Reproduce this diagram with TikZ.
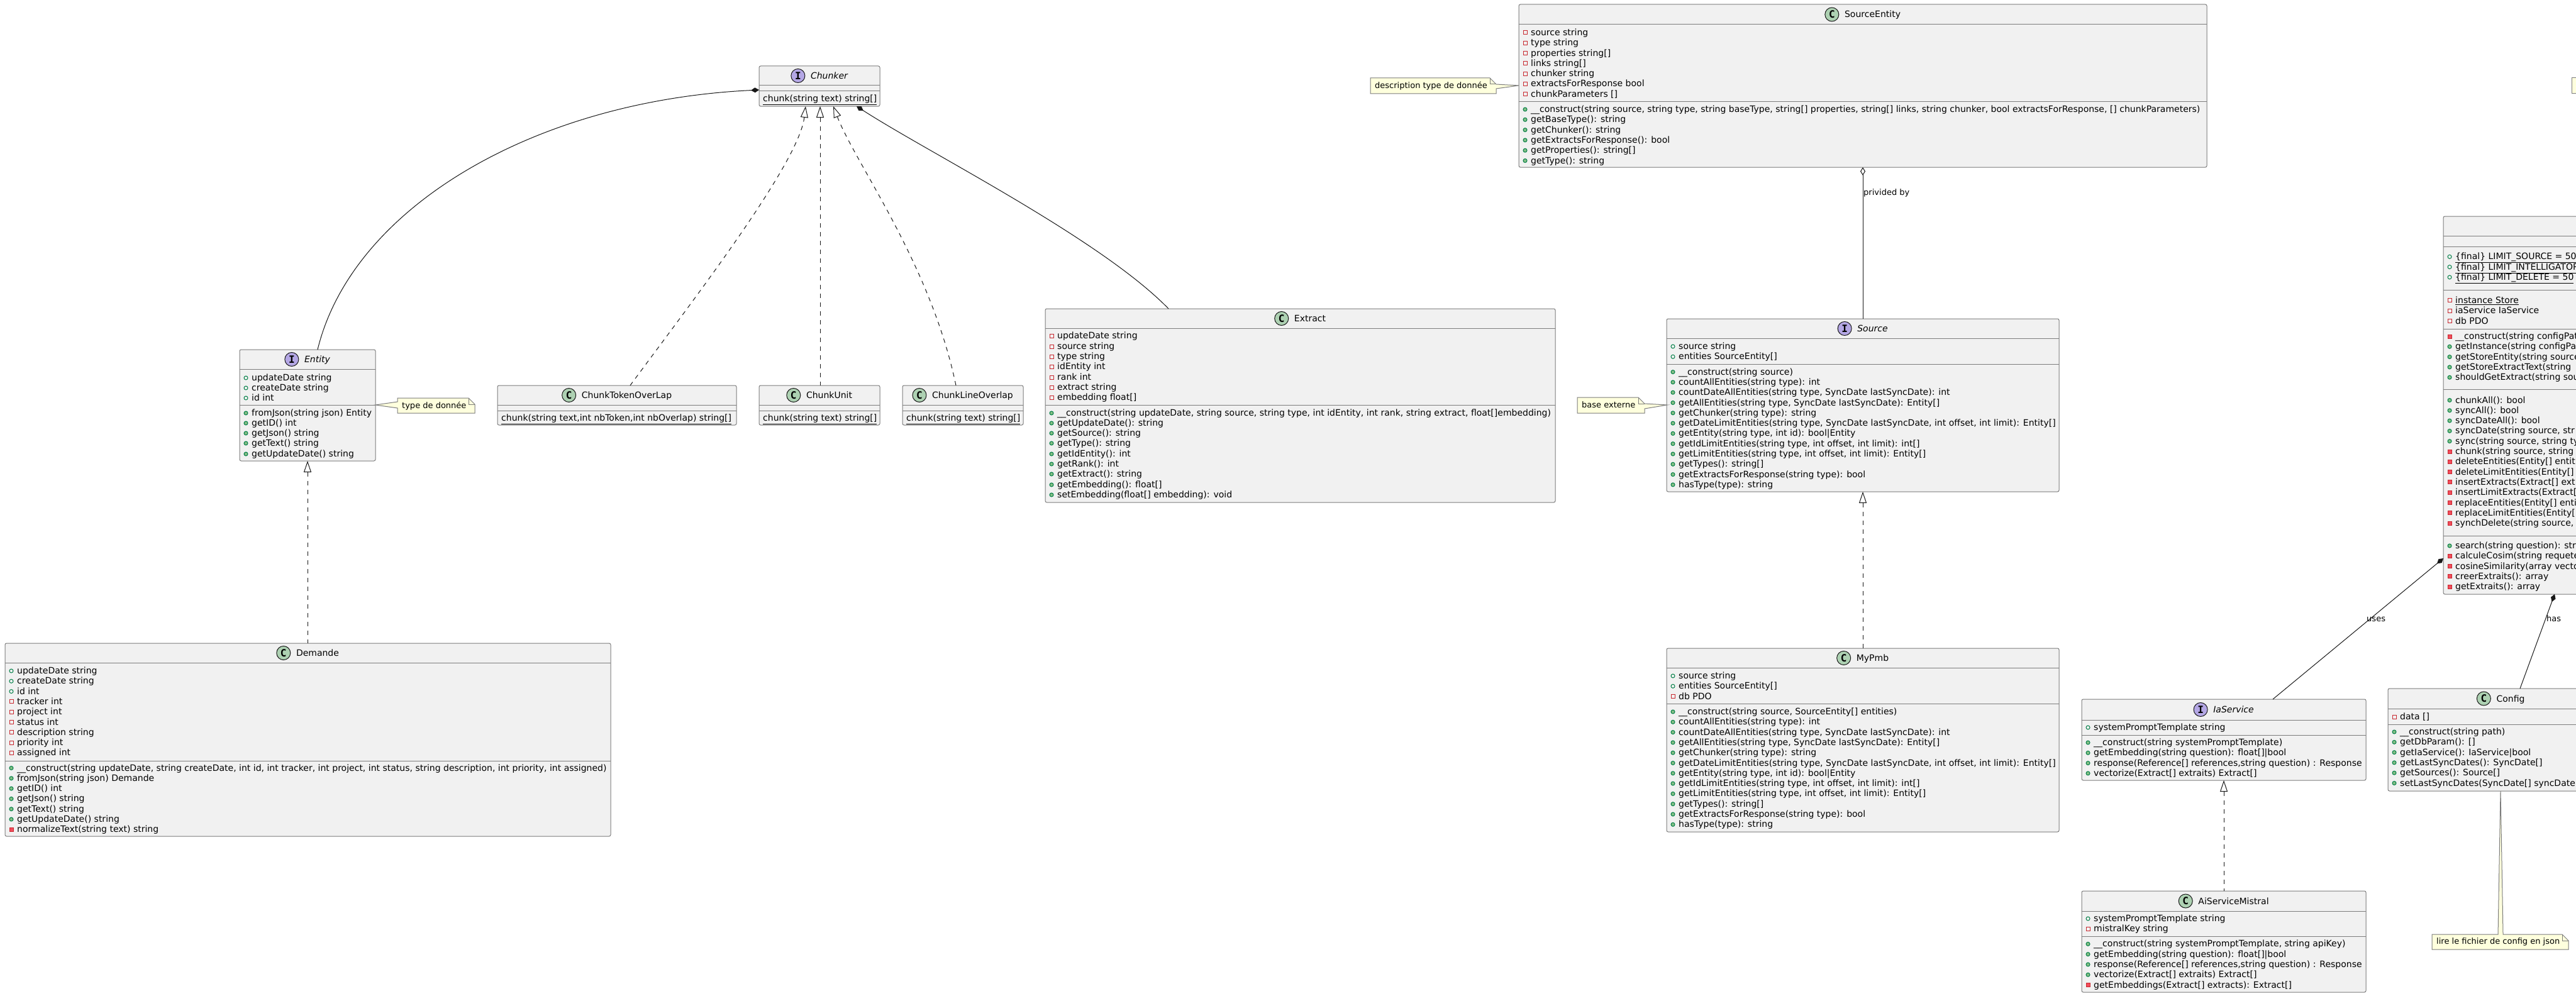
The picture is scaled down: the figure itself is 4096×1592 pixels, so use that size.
\documentclass[tikz,border=0pt]{standalone}
\usepackage{fontspec}
\setmainfont{DejaVu Sans}
\newfontfamily\iconfont{DejaVu Sans Mono}
\usetikzlibrary{arrows.meta}
\definecolor{clsfill}{HTML}{F1F1F1}
\definecolor{clsline}{HTML}{181818}
\definecolor{clsborder}{HTML}{7C7C7C}
\definecolor{notefill}{HTML}{FEFFDD}
\definecolor{noteborder}{HTML}{7C7C7C}
\definecolor{pubc}{HTML}{038048}
\definecolor{pubfill}{HTML}{84BE84}
\definecolor{privc}{HTML}{C82930}
\definecolor{privfill}{HTML}{F24D5C}
\definecolor{cfill}{HTML}{ADD1B2}
\definecolor{ifill}{HTML}{B4A7E5}
\newcommand{\memfont}{\fontsize{14pt}{16.3pt}\selectfont}
\newcommand{\notefont}{\fontsize{13pt}{15pt}\selectfont}
\newcounter{mc}
\tikzset{
 clsbox/.style={draw=clsborder, fill=clsfill, line width=1pt, rounded corners=2.5pt, anchor=north west, inner sep=0pt, outer sep=0pt},
 sepl/.style={draw=clsborder, line width=1pt},
 mt/.style={anchor=base west, inner sep=0pt, font=\memfont, text=black},
 ttl/.style={anchor=base, inner sep=0pt, font=\memfont, text=black},
 cicon/.style={circle, draw=clsline, line width=1pt, minimum size=22pt, inner sep=0pt, font=\iconfont\bfseries\fontsize{16pt}{16pt}\selectfont},
 notebox/.style={draw=noteborder, fill=notefill, line width=1pt, line join=miter},
 nt/.style={anchor=base west, inner sep=0pt, font=\notefont, text=black},
 lbl/.style={anchor=base west, inner sep=0pt, font=\notefont, text=black},
 link/.style={draw=clsline, line width=1pt},
 comp/.style={link, arrows={Diamond[length=13pt,width=8pt]-}},
 aggr/.style={link, arrows={Diamond[open,length=13pt,width=8pt]-}},
 realz/.style={link, dash pattern=on 7pt off 7pt, arrows={Triangle[open,length=18pt,width=12pt]-}},
}
% icons
\newcommand{\icpf}[2]{\draw[pubc, line width=1pt] (#1,#2) circle[radius=3pt];}
\newcommand{\icpm}[2]{\draw[pubc, fill=pubfill, line width=1pt] (#1,#2) circle[radius=3pt];}
\newcommand{\icvf}[2]{\draw[privc, line width=1pt] (#1-3,#2-3) rectangle (#1+3,#2+3);}
\newcommand{\icvm}[2]{\draw[privc, fill=privfill, line width=1pt] (#1-3,#2-3) rectangle (#1+3,#2+3);}
% member line: left x, center y, icon, text
\newcommand{\mem}[4]{\stepcounter{mc}\edef\mcname{m\arabic{mc}}%
  \csname ic#3\endcsname{#1+10}{#2}%
  \node[mt] (\mcname) at (#1+19,#2+4.5) {#4};}
% static member without icon
\newcommand{\smem}[3]{\stepcounter{mc}\edef\mcname{m\arabic{mc}}%
  \node[mt] (\mcname) at (#1+6,#2+4.5) {\underline{#3}};}
\newcommand{\csep}[3]{\draw[sepl] (#1,#3) -- (#2,#3);}
% class box: name, L, T, R, B, title sep, letter, letter fill, title
\newcommand{\cls}[9]{%
  \node[clsbox, minimum width=#4-#2, minimum height=#5-#3] (#1) at (#2,#3) {};
  \draw[sepl] (#2,#6) -- (#4,#6);
  \pgfmathsetmacro\gy{(#3+#6)/2}%
  \node[ttl] (#1-t) at ({(#2+#4)/2+15.5},\gy+5) {#9};
  \coordinate (#1-tw) at ([xshift=-20pt]#1-t.base west);
  \node[cicon, fill=#8] (#1-i) at (#1-tw |- 0,\gy) {#7};}
\begin{document}
\begin{tikzpicture}[x=1pt,y=-1pt]
\fill[white] (0,0) rectangle (4096,1592);
\useasboundingbox (0,0) rectangle (4096,1592);

% ---------------- Chunker
\cls{Chunker}{1207}{105}{1399}{169}{136}{I}{ifill}{\itshape Chunker}
\csep{1207}{1399}{145}
\smem{1207}{157}{chunk(string text) string[]}

% ---------------- Entity
\cls{Entity}{381}{556}{597}{733}{587}{I}{ifill}{\itshape Entity}
\csep{381}{597}{644}
\mem{381}{601}{pf}{updateDate string}
\mem{381}{617}{pf}{createDate string}
\mem{381}{633}{pf}{id int}
\mem{381}{657}{pm}{fromJson(string json) Entity}
\mem{381}{673}{pm}{getID() int}
\mem{381}{689}{pm}{getJson() string}
\mem{381}{705}{pm}{getText() string}
\mem{381}{722}{pm}{getUpdateDate() string}

% ---------------- Chunk classes
\cls{CTO}{791}{613}{1171}{676}{644}{C}{cfill}{ChunkTokenOverLap}
\csep{791}{1171}{653}
\smem{791}{665}{chunk(string text,int nbToken,int nbOverlap) string[]}
\cls{CU}{1207}{613}{1399}{676}{644}{C}{cfill}{ChunkUnit}
\csep{1207}{1399}{653}
\smem{1207}{665}{chunk(string text) string[]}
\cls{CLO}{1435}{613}{1627}{676}{644}{C}{cfill}{ChunkLineOverlap}
\csep{1435}{1627}{653}
\smem{1435}{665}{chunk(string text) string[]}

% ---------------- Extract
\cls{Extract}{1662}{491}{2473}{799}{522}{C}{cfill}{Extract}
\csep{1662}{2473}{644}
\mem{1662}{534}{vf}{updateDate string}
\mem{1662}{551}{vf}{source string}
\mem{1662}{567}{vf}{type string}
\mem{1662}{583}{vf}{idEntity int}
\mem{1662}{600}{vf}{rank int}
\mem{1662}{616}{vf}{extract string}
\mem{1662}{632}{vf}{embedding float[]}
\mem{1662}{657}{pm}{\_\_construct(string updateDate, string source, string type, int idEntity, int rank, string extract, float[]embedding)}
\mem{1662}{673}{pm}{getUpdateDate(): string}
\mem{1662}{689}{pm}{getSource(): string}
\mem{1662}{705}{pm}{getType(): string}
\mem{1662}{722}{pm}{getIdEntity(): int}
\mem{1662}{738}{pm}{getRank(): int}
\mem{1662}{754}{pm}{getExtract(): string}
\mem{1662}{771}{pm}{getEmbedding(): float[]}
\mem{1662}{787}{pm}{setEmbedding(float[] embedding): void}

% ---------------- Demande
\cls{Demande}{8}{1023}{971}{1330}{1054}{C}{cfill}{Demande}
\csep{8}{971}{1210}
\mem{8}{1067}{pf}{updateDate string}
\mem{8}{1083.3}{pf}{createDate string}
\mem{8}{1099.6}{pf}{id int}
\mem{8}{1115.9}{vf}{tracker int}
\mem{8}{1132.2}{vf}{project int}
\mem{8}{1148.5}{vf}{status int}
\mem{8}{1164.8}{vf}{description string}
\mem{8}{1181.1}{vf}{priority int}
\mem{8}{1197.4}{vf}{assigned int}
\mem{8}{1221.5}{pm}{\_\_construct(string updateDate, string createDate, int id, int tracker, int project, int status, string description, int priority, int assigned)}
\mem{8}{1237.8}{pm}{fromJson(string json) Demande}
\mem{8}{1254.1}{pm}{getID() int}
\mem{8}{1270.4}{pm}{getJson() string}
\mem{8}{1286.7}{pm}{getText() string}
\mem{8}{1303}{pm}{getUpdateDate() string}
\mem{8}{1319.3}{vm}{normalizeText(string text) string}

% ---------------- SourceEntity
\cls{SourceEntity}{2415}{7}{3509}{266}{39}{C}{cfill}{SourceEntity}
\csep{2415}{3509}{162}
\mem{2415}{52}{vf}{source string}
\mem{2415}{68.3}{vf}{type string}
\mem{2415}{84.6}{vf}{properties string[]}
\mem{2415}{100.9}{vf}{links string[]}
\mem{2415}{117.2}{vf}{chunker string}
\mem{2415}{133.5}{vf}{extractsForResponse bool}
\mem{2415}{149.8}{vf}{chunkParameters []}
\mem{2415}{174}{pm}{\_\_construct(string source, string type, string baseType, string[] properties, string[] links, string chunker, bool extractsForResponse, [] chunkParameters)}
\mem{2415}{190.3}{pm}{getBaseType(): string}
\mem{2415}{206.6}{pm}{getChunker(): string}
\mem{2415}{222.9}{pm}{getExtractsForResponse(): bool}
\mem{2415}{239.2}{pm}{getProperties(): string[]}
\mem{2415}{255.5}{pm}{getType(): string}

% ---------------- Source
\cls{Source}{2650}{507}{3274}{782}{538}{I}{ifill}{\itshape Source}
\csep{2650}{3274}{579}
\mem{2650}{551}{pf}{source string}
\mem{2650}{567.3}{pf}{entities SourceEntity[]}
\mem{2650}{591.6}{pm}{\_\_construct(string source)}
\mem{2650}{607.9}{pm}{countAllEntities(string type): int}
\mem{2650}{624.2}{pm}{countDateAllEntities(string type, SyncDate lastSyncDate): int}
\mem{2650}{640.5}{pm}{getAllEntities(string type, SyncDate lastSyncDate): Entity[]}
\mem{2650}{656.8}{pm}{getChunker(string type): string}
\mem{2650}{673.1}{pm}{getDateLimitEntities(string type, SyncDate lastSyncDate, int offset, int limit): Entity[]}
\mem{2650}{689.4}{pm}{getEntity(string type, int id): bool|Entity}
\mem{2650}{705.7}{pm}{getIdLimitEntities(string type, int offset, int limit): int[]}
\mem{2650}{722}{pm}{getLimitEntities(string type, int offset, int limit): Entity[]}
\mem{2650}{738.3}{pm}{getTypes(): string[]}
\mem{2650}{754.6}{pm}{getExtractsForResponse(string type): bool}
\mem{2650}{770.9}{pm}{hasType(type): string}

% ---------------- MyPmb
\cls{MyPmb}{2650}{1031}{3274}{1323}{1062}{C}{cfill}{MyPmb}
\csep{2650}{3274}{1119.6}
\mem{2650}{1075}{pf}{source string}
\mem{2650}{1091.3}{pf}{entities SourceEntity[]}
\mem{2650}{1107.6}{vf}{db PDO}
\mem{2650}{1132}{pm}{\_\_construct(string source, SourceEntity[] entities)}
\mem{2650}{1148.3}{pm}{countAllEntities(string type): int}
\mem{2650}{1164.6}{pm}{countDateAllEntities(string type, SyncDate lastSyncDate): int}
\mem{2650}{1180.9}{pm}{getAllEntities(string type, SyncDate lastSyncDate): Entity[]}
\mem{2650}{1197.2}{pm}{getChunker(string type): string}
\mem{2650}{1213.5}{pm}{getDateLimitEntities(string type, SyncDate lastSyncDate, int offset, int limit): Entity[]}
\mem{2650}{1229.8}{pm}{getEntity(string type, int id): bool|Entity}
\mem{2650}{1246.1}{pm}{getIdLimitEntities(string type, int offset, int limit): int[]}
\mem{2650}{1262.4}{pm}{getLimitEntities(string type, int offset, int limit): Entity[]}
\mem{2650}{1278.7}{pm}{getTypes(): string[]}
\mem{2650}{1295}{pm}{getExtractsForResponse(string type): bool}
\mem{2650}{1311.3}{pm}{hasType(type): string}

% ---------------- IaService
\cls{IaService}{3310}{1112}{3762}{1241}{1145}{I}{ifill}{\itshape IaService}
\csep{3310}{3762}{1169}
\mem{3310}{1157}{pf}{systemPromptTemplate string}
\mem{3310}{1181}{pm}{\_\_construct(string systemPromptTemplate)}
\mem{3310}{1197.3}{pm}{getEmbedding(string question): float[]|bool}
\mem{3310}{1213.6}{pm}{response(Reference[] references,string question) : Response}
\mem{3310}{1229.9}{pm}{vectorize(Extract[] extraits) Extract[]}

% ---------------- AiServiceMistral
\cls{AiServiceMistral}{3310}{1417}{3762}{1578}{1449}{C}{cfill}{AiServiceMistral}
\csep{3310}{3762}{1489}
\mem{3310}{1461}{pf}{systemPromptTemplate string}
\mem{3310}{1477.3}{vf}{mistralKey string}
\mem{3310}{1501.3}{pm}{\_\_construct(string systemPromptTemplate, string apiKey)}
\mem{3310}{1517.6}{pm}{getEmbedding(string question): float[]|bool}
\mem{3310}{1533.9}{pm}{response(Reference[] references,string question) : Response}
\mem{3310}{1550.2}{pm}{vectorize(Extract[] extraits) Extract[]}
\mem{3310}{1566.5}{vm}{getEmbeddings(Extract[] extracts): Extract[]}

% ---------------- Config
\cls{Config}{3797}{1095}{4156}{1258}{1127}{C}{cfill}{Config}
\csep{3797}{4156}{1152}
\mem{3797}{1140}{vf}{data []}
\mem{3797}{1164}{pm}{\_\_construct(string path)}
\mem{3797}{1180.3}{pm}{getDbParam(): []}
\mem{3797}{1196.6}{pm}{getIaService(): IaService|bool}
\mem{3797}{1212.9}{pm}{getLastSyncDates(): SyncDate[]}
\mem{3797}{1229.2}{pm}{getSources(): Source[]}
\mem{3797}{1245.5}{pm}{setLastSyncDates(SyncDate[] syncDate}

% ---------------- Store (cut by the right edge)
\node[clsbox, minimum width=515, minimum height=601] (Store) at (3885,344) {};
\csep{3885}{4400}{375}
\csep{3885}{4400}{392}
\csep{3885}{4400}{461}
\csep{3885}{4400}{523}
\csep{3885}{4400}{619}
\csep{3885}{4400}{852}
\mem{3885}{408.3}{pf}{\underline{\{final\} LIMIT\_SOURCE = 50}}
\mem{3885}{424.6}{pf}{\underline{\{final\} LIMIT\_INTELLIGATOR}}
\mem{3885}{440.9}{pf}{\underline{\{final\} LIMIT\_DELETE = 50}}
\mem{3885}{477.9}{vf}{\underline{instance Store}}
\mem{3885}{494.2}{vf}{iaService IaService}
\mem{3885}{510.5}{vf}{db PDO}
\mem{3885}{535}{vm}{\_\_construct(string configPat}
\mem{3885}{551.3}{pm}{getInstance(string configPa}
\mem{3885}{567.6}{pm}{getStoreEntity(string source}
\mem{3885}{583.9}{pm}{getStoreExtractText(string}
\mem{3885}{600.2}{pm}{shouldGetExtract(string sou}
\mem{3885}{636.5}{pm}{chunkAll(): bool}
\mem{3885}{652.8}{pm}{syncAll(): bool}
\mem{3885}{669.1}{pm}{syncDateAll(): bool}
\mem{3885}{685.4}{pm}{syncDate(string source, str}
\mem{3885}{701.7}{pm}{sync(string source, string ty}
\mem{3885}{718}{vm}{chunk(string source, string}
\mem{3885}{734.3}{vm}{deleteEntities(Entity[] entit}
\mem{3885}{750.6}{vm}{deleteLimitEntities(Entity[]}
\mem{3885}{766.9}{vm}{insertExtracts(Extract[] ext}
\mem{3885}{783.2}{vm}{insertLimitExtracts(Extract[}
\mem{3885}{799.5}{vm}{replaceEntities(Entity[] enti}
\mem{3885}{815.8}{vm}{replaceLimitEntities(Entity[}
\mem{3885}{832.1}{vm}{synchDelete(string source,}
\mem{3885}{868}{pm}{search(string question): str}
\mem{3885}{884.3}{vm}{calculeCosim(string requete}
\mem{3885}{900.6}{vm}{cosineSimilarity(array vecto}
\mem{3885}{916.9}{vm}{creerExtraits(): array}
\mem{3885}{933.2}{vm}{getExtraits(): array}

% ---------------- notes
\draw[notebox] (632,633) -- (632,639) -- (597,644) -- (632,649) -- (632,657) -- (755,657) -- (755,643) -- (745,633) -- cycle;
\draw[notebox, fill=none] (745,633) -- (745,643) -- (755,643);
\node[nt] (n1) at (639,649.5) {type de donnée};

\draw[notebox] (2179,124) -- (2369,124) -- (2379,134) -- (2415,136) -- (2379,141) -- (2379,149) -- (2179,149) -- cycle;
\draw[notebox, fill=none] (2369,124) -- (2369,134) -- (2379,134);
\node[nt] (n2) at (2186,141) {description type de donnée};

\draw[notebox] (2508,632) -- (2605,632) -- (2615,642) -- (2651,644) -- (2615,650) -- (2615,657) -- (2508,657) -- cycle;
\draw[notebox, fill=none] (2605,632) -- (2605,642) -- (2615,642);
\node[nt] (n3) at (2515,648.5) {base externe};

\draw[notebox] (3867,1486) -- (3972,1486) -- (3976,1258) -- (3980,1486) -- (4074,1486) -- (4084,1496) -- (4084,1510) -- (3867,1510) -- cycle;
\draw[notebox, fill=none] (4074,1486) -- (4074,1496) -- (4084,1496);
\node[nt] (n4) at (3874,1501.5) {lire le fichier de config en json};

\draw[notebox] (4089,124) rectangle (4400,149);

% ---------------- connectors
\draw[comp] ([yshift=-6pt]Chunker.west) .. controls (850,160) and (560,330) .. ([xshift=16pt]Entity.north);
\draw[comp] ([xshift=59pt]Chunker.south) .. controls (1480,245) and (1750,380) .. ([xshift=-209.5pt]Extract.north);
\draw[realz] ([xshift=-22pt]Chunker.south) .. controls (1270,260) and (1100,480) .. ([xshift=21pt]CTO.north);
\draw[realz] ([xshift=1pt]Chunker.south) -- ([xshift=1pt]CU.north);
\draw[realz] ([xshift=22pt]Chunker.south) .. controls (1360,260) and (1480,420) .. ([xshift=-11pt]CLO.north);
\draw[realz] (Entity.south) -- (Entity.south |- Demande.north);
\draw[aggr] (SourceEntity.south) -- (Source.north);
\node[lbl] (l1) at (2963,310) {privided by};
\draw[realz] (Source.south) -- (MyPmb.north);
\draw[comp] ([yshift=-243.5pt]Store.west) -- ([xshift=78pt]IaService.north);
\node[lbl] (l2) at (3763,988) {uses};
\draw[comp] ([xshift=-80.5pt]Store.south) -- ([xshift=30.5pt]Config.north);
\node[lbl] (l3) at (4049,988) {has};
\draw[realz] (IaService.south) -- (AiServiceMistral.north);
\end{tikzpicture}
\end{document}
